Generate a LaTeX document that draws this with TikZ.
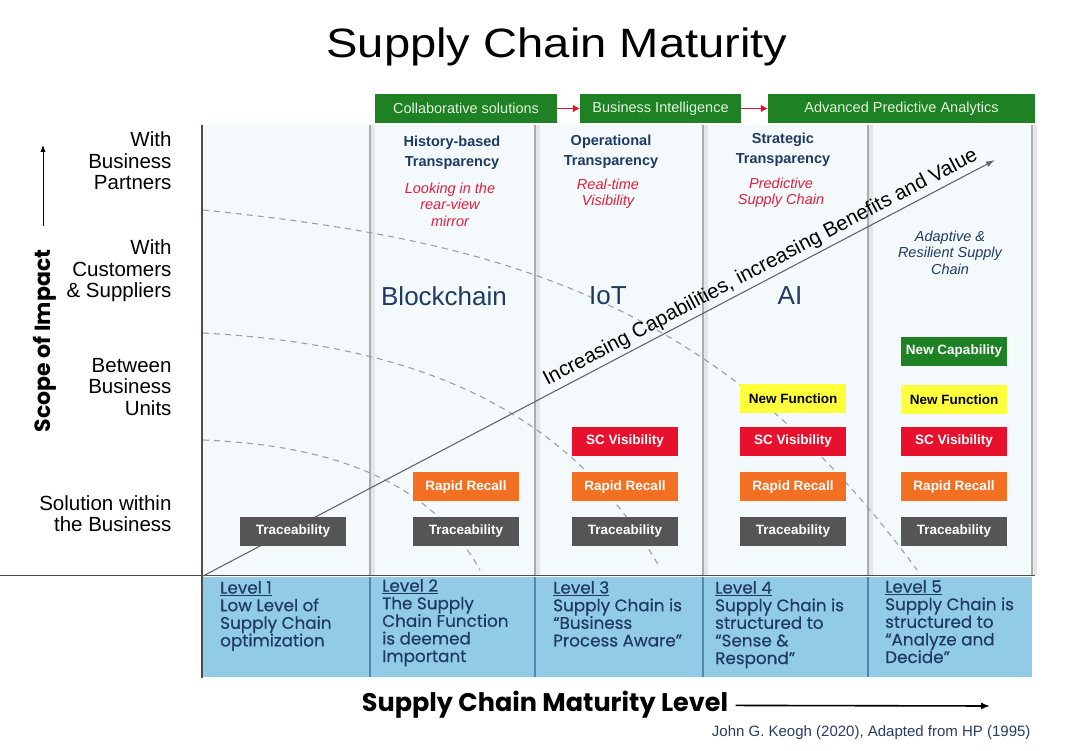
\documentclass[tikz,border=0pt]{standalone}
\usepackage{fontspec}
\setmainfont{Liberation Sans}
\newfontfamily\titlefont{Liberation Sans}[FakeStretch=1.15]
\newfontfamily\geofont{Poppins}
\newfontfamily\levelfont{Poppins}[FakeBold=0.4]
\usetikzlibrary{arrows.meta,positioning,calc}
\definecolor{navy}{RGB}{31,58,99}
\definecolor{green2}{RGB}{30,130,36}
\definecolor{lightgreen}{RGB}{228,244,222}
\definecolor{red2}{RGB}{232,17,45}
\definecolor{orange2}{RGB}{243,112,34}
\definecolor{yellow2}{RGB}{255,255,60}
\definecolor{gray2}{RGB}{85,85,85}
\definecolor{colbg}{RGB}{244,249,252}
\definecolor{bandblue}{RGB}{146,203,230}
\definecolor{bandline}{RGB}{80,135,170}
\definecolor{pinkred}{RGB}{226,30,60}
\definecolor{citegray}{RGB}{40,60,95}
\tikzset{
  tagbox/.style={minimum width=106pt, minimum height=29pt, inner sep=0pt,
    font=\bfseries\fontsize{13.5}{15}\selectfont, text=white},
  tracebox/.style={tagbox, fill=gray2},
  recallbox/.style={tagbox, fill=orange2},
  visbox/.style={tagbox, fill=red2},
  funcbox/.style={tagbox, fill=yellow2, text=black},
  capbox/.style={tagbox, fill=green2},
  phasebox/.style={fill=green2, minimum height=29pt, inner sep=0pt,
    text=lightgreen, font=\fontsize{14.5}{16}\selectfont},
  headtext/.style={align=center, text=navy, font=\bfseries\fontsize{14.5}{20}\selectfont},
  subtext/.style={align=center, text=pinkred, font=\itshape\fontsize{14.5}{16.5}\selectfont},
  techtext/.style={text=navy, font=\fontsize{26}{28}\selectfont},
  scopetext/.style={align=right, anchor=east, font=\fontsize{20.5}{21.5}\selectfont},
  leveltext/.style={align=left, anchor=north west, text=navy, inner sep=0pt,
    font=\levelfont\fontsize{16.8}{17.6}\selectfont},
  flow/.style={-{Latex[length=7pt]}, line width=0.9pt},
  redflow/.style={-{Latex[length=7pt,width=8pt]}, red2, line width=1.6pt},
  curve/.style={dashed, dash pattern=on 6pt off 5pt, draw=gray!75, line width=1.1pt},
  colline/.style={draw=gray!65, line width=1.8pt}
}

\begin{document}
\begin{tikzpicture}[x=1pt, y=-1pt, node distance=15pt]
\useasboundingbox (0,0) rectangle (1079,751);

\node (title) at (557,47) {\titlefont\fontsize{41}{44}\selectfont Supply Chain Maturity};

% columns and level band
\fill[colbg] (202,125) rectangle (1032,575);
\foreach \x in {370,535,703,868,1032} {
  \draw[gray!20, line width=4pt] (\x+3,125) -- (\x+3,575);
  \draw[colline] (\x,125) -- (\x,575);
}
\fill[bandblue] (202,577) rectangle (1032,677);
\foreach \x in {370,535,703,868} \draw[bandline, line width=1.5pt] (\x,577) -- (\x,677);
\draw[black!70, line width=1.2pt] (202,125) -- (202,678);
\draw[black!70, line width=1pt] (0,575) -- (1035,575);

% scope boundaries
\draw[curve] (203,210) .. controls (500,240) and (720,300) .. (917,570);
\draw[curve] (203,333) .. controls (420,345) and (570,410) .. (660,568);
\draw[curve] (203,440) .. controls (330,445) and (430,480) .. (480,570);

% growth arrow
\coordinate (growstart) at (203,576);
\coordinate (growend) at (995,160);
\draw[-{Latex[length=9pt,width=6pt]}, gray!80!black, line width=1.1pt] (growstart) --
  node[pos=0.712, sloped, above=0pt, text=black, font=\fontsize{20.5}{22}\selectfont]
  {Increasing Capabilities,\ increasing Benefits and Value} (growend);

% phases
\node[phasebox, minimum width=182pt] (collab) at (466,108.5) {Collaborative solutions};
\node[phasebox, minimum width=161pt] (bizint) at (660.5,108.5) {Business Intelligence};
\node[phasebox, minimum width=267pt] (advpred) at (901.5,108.5) {Advanced Predictive Analytics};
\draw[redflow] (collab) -- (bizint);
\draw[redflow] (bizint) -- (advpred);

% column headings
\node[headtext] (hist) at (452,153) {History-based\\Transparency};
\node[subtext] (rearview) at (450,204.5) {Looking in the\\rear-view\\mirror};
\node[headtext] (oper) at (611,151.5) {Operational\\Transparency};
\node[subtext] (realtime) at (608,194) {Real-time\\Visibility};
\node[headtext] (strat) at (783,149.5) {Strategic\\Transparency};
\node[subtext] (predict) at (781,193) {Predictive\\Supply Chain};
\node[subtext, text=navy] (adaptive) at (950,252.5) {Adaptive \&\\Resilient Supply\\Chain};

\node[techtext] (blockchain) at (444,296) {Blockchain};
\node[techtext] (iot) at (608,296) {IoT};
\node[techtext] (ai) at (790,296) {AI};

% scope of impact
\node[scopetext] (partners) at (175,161) {With\\Business\\Partners};
\node[scopetext] (customers) at (175,271) {With\\Customers\\\& Suppliers};
\node[scopetext] (units) at (175,387) {Between\\Business\\Units};
\node[scopetext] (within) at (175,513.5) {Solution within\\the Business};
\node[rotate=90, font=\geofont\bfseries\fontsize{22}{24}\selectfont] (scope) at (45,341) {Scope of Impact};
\coordinate (scopebase) at (43,226);
\coordinate (scopetip) at (43,145);
\draw[flow, line width=0.8pt] (scopebase) -- (scopetip);

% capability stacks
\node[tracebox] (trace1) at (293,531) {Traceability};
\node[tracebox] (trace2) at (466,531) {Traceability};
\node[recallbox, above=of trace2] (recall2) {Rapid Recall};
\node[tracebox] (trace3) at (625,531) {Traceability};
\node[recallbox, above=of trace3] (recall3) {Rapid Recall};
\node[visbox, above=16pt of recall3] (vis3) {SC Visibility};
\node[tracebox] (trace4) at (793,531) {Traceability};
\node[recallbox, above=of trace4] (recall4) {Rapid Recall};
\node[visbox, above=16pt of recall4] (vis4) {SC Visibility};
\node[funcbox, above=13pt of vis4] (func4) {New Function};
\node[tracebox] (trace5) at (954,531) {Traceability};
\node[recallbox, above=of trace5] (recall5) {Rapid Recall};
\node[visbox, above=16pt of recall5] (vis5) {SC Visibility};
\node[funcbox, above=12pt of vis5] (func5) {New Function};
\node[capbox, above=19pt of func5] (cap5) {New Capability};

% levels
\node[leveltext] (lvl1) at (220,581) {\underline{Level 1}\\Low Level of\\Supply Chain\\optimization};
\node[leveltext] (lvl2) at (382,579) {\underline{Level 2}\\The Supply\\Chain Function\\is deemed\\Important};
\node[leveltext] (lvl3) at (553,581) {\underline{Level 3}\\Supply Chain is\\“Business\\Process Aware”};
\node[leveltext] (lvl4) at (715,581) {\underline{Level 4}\\Supply Chain is\\structured to\\“Sense \&\\Respond”};
\node[leveltext] (lvl5) at (885,580) {\underline{Level 5}\\Supply Chain is\\structured to\\“Analyze and\\Decide”};

% maturity axis
\node[font=\geofont\bfseries\fontsize{25.5}{27}\selectfont] (maturity) at (545,705) {Supply Chain Maturity Level};
\coordinate (maturityend) at (990,706);
\draw[-{Latex[length=9pt,width=7pt]}, line width=1.6pt, shorten <=4pt] (maturity) -- (maturityend);
\node[anchor=east, text=citegray, font=\fontsize{15}{17}\selectfont] (cite) at (1034,733)
  {John G. Keogh (2020), Adapted from HP (1995)};
\end{tikzpicture}
\end{document}
